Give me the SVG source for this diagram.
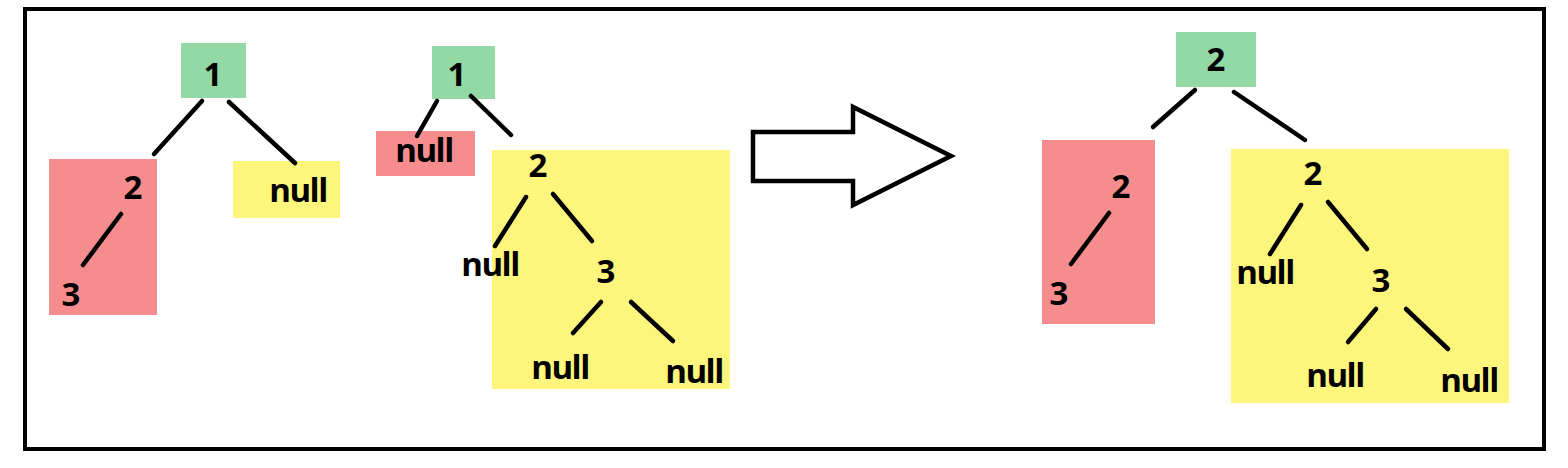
<svg xmlns="http://www.w3.org/2000/svg" width="1568" height="468" viewBox="0 0 1568 468">
<style>
.t{font-family:"Open Sans","Noto Sans","Liberation Sans",sans-serif;font-weight:bold;font-size:33px;fill:#000;text-anchor:middle}
.n{letter-spacing:-1.5px}
.g{fill:#93D9A6}
.r{fill:#F58D8F}
.y{fill:#FEF57D}
.e{stroke:#000;stroke-width:4.5;stroke-linecap:round;fill:none}
</style>
<rect x="25" y="9" width="1519" height="440" fill="#fff" stroke="#000" stroke-width="4"/>
<g id="left-tree">
<g id="n1a"><rect class="g" x="181" y="43" width="65" height="55"/><text class="t" x="213" y="86">1</text></g>
<g id="box-left-red"><rect class="r" x="49" y="159" width="108" height="156"/></g>
<g id="n2a"><text class="t" x="133" y="199">2</text></g>
<g id="n3a"><text class="t" x="71" y="306">3</text></g>
<g id="null-a"><rect class="y" x="233" y="161" width="107" height="57"/><text class="t n" x="298" y="202">null</text></g>
</g>
<g id="mid-tree">
<g id="n1b"><rect class="g" x="432" y="46" width="63" height="53"/><text class="t" x="457" y="86">1</text></g>
<g id="null-b"><rect class="r" x="376" y="131" width="99" height="45"/><text class="t n" x="424" y="162">null</text></g>
<g id="box-mid-yellow"><rect class="y" x="492" y="150" width="238" height="239"/></g>
<g id="n2b"><text class="t" x="538" y="177">2</text></g>
<g id="null-c"><text class="t n" x="490" y="276">null</text></g>
<g id="n3b"><text class="t" x="606" y="283">3</text></g>
<g id="null-d"><text class="t n" x="560" y="379">null</text></g>
<g id="null-e"><text class="t n" x="694" y="383">null</text></g>
</g>
<g id="arrow"><path d="M753 132 H853 V107 L951 156 L853 205 V181 H753 Z" fill="#fff" stroke="#000" stroke-width="4.5" stroke-linejoin="miter"/></g>
<g id="right-tree">
<g id="n2c"><rect class="g" x="1176" y="32" width="80" height="55"/><text class="t" x="1216" y="71">2</text></g>
<g id="box-right-red"><rect class="r" x="1042" y="140" width="113" height="184"/></g>
<g id="n2d"><text class="t" x="1121" y="198">2</text></g>
<g id="n3d"><text class="t" x="1059" y="305">3</text></g>
<g id="box-right-yellow"><rect class="y" x="1231" y="149" width="278" height="254"/></g>
<g id="n2e"><text class="t" x="1313" y="185">2</text></g>
<g id="null-f"><text class="t n" x="1265" y="284">null</text></g>
<g id="n3e"><text class="t" x="1381" y="292">3</text></g>
<g id="null-g"><text class="t n" x="1335" y="387">null</text></g>
<g id="null-h"><text class="t n" x="1469" y="392">null</text></g>
</g>
<g id="connectors">
<line class="e" x1="202" y1="101" x2="154" y2="154"/>
<line class="e" x1="229" y1="102" x2="295" y2="163"/>
<line class="e" x1="121" y1="214" x2="83" y2="265"/>
<line class="e" x1="437" y1="101" x2="417" y2="136"/>
<line class="e" x1="471" y1="96" x2="511" y2="135"/>
<line class="e" x1="526" y1="197" x2="495" y2="246"/>
<line class="e" x1="553" y1="194" x2="592" y2="241"/>
<line class="e" x1="601" y1="302" x2="573" y2="333"/>
<line class="e" x1="631" y1="302" x2="673" y2="341"/>
<line class="e" x1="1195" y1="90" x2="1153" y2="127"/>
<line class="e" x1="1234" y1="92" x2="1305" y2="140"/>
<line class="e" x1="1109" y1="213" x2="1071" y2="264"/>
<line class="e" x1="1301" y1="205" x2="1270" y2="254"/>
<line class="e" x1="1328" y1="202" x2="1367" y2="249"/>
<line class="e" x1="1376" y1="309" x2="1348" y2="342"/>
<line class="e" x1="1406" y1="309" x2="1448" y2="349"/>
</g>
</svg>
